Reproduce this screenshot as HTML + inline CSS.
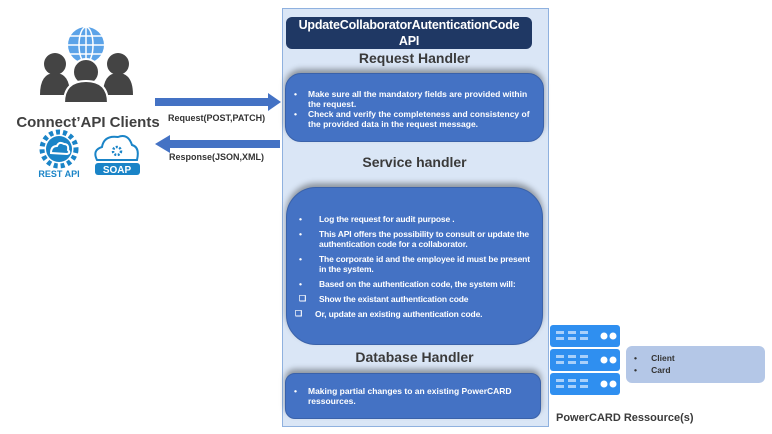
<!DOCTYPE html>
<html><head><style>
body{margin:0;width:772px;height:434px;background:#fff;position:relative;overflow:hidden;font-family:"Liberation Sans",Arial,sans-serif}
.a{position:absolute}
.panel{left:282px;top:8px;width:265px;height:417px;background:#dae6f6;border:1px solid #8fb1df}
.title{left:286px;top:17px;width:246px;height:32px;background:#1f3864;border-radius:6px;color:#fff;font-size:12.5px;font-weight:bold;text-align:center;line-height:16px;letter-spacing:-0.2px}
.h{color:#3a3a3a;font-weight:bold;font-size:14px;text-align:center;width:265px;left:282px}
.box{background:#4472c4;color:#fff;font-weight:bold;box-shadow:0 -4px 6px rgba(0,0,0,.35);border:1px solid #3a62aa;box-sizing:border-box}
.box ul{margin:0;padding:0;list-style:none}
.box li{position:relative;line-height:10px}
.box li:before{content:"•";position:absolute}
.req li{font-size:8.5px}
.req li:before{left:-14px}
.svc li{margin-bottom:5px;line-height:10px;font-size:8.5px;letter-spacing:-0.15px}
.svc li:before{left:-20px}
.svc li.sq:before{content:"❑";left:-20px;font-size:8px}
</style></head><body>
<div class="a panel"></div>
<div class="a title">UpdateCollaboratorAutenticationCode<br>API</div>
<div class="a h" style="top:50px">Request Handler</div>
<div class="a box req" style="left:285px;top:73px;width:259px;height:69px;border-radius:16px;padding:15px 10px 0 22px">
<ul><li>Make sure all the mandatory fields are provided within the request.</li><li>Check and verify the completeness and consistency of the provided data in the request message.</li></ul></div>
<div class="a h" style="top:154px">Service handler</div>
<div class="a box svc" style="left:286px;top:187px;width:257px;height:158px;border-radius:30px;padding:26px 10px 0 32px">
<ul><li>Log the request for audit purpose .</li><li>This API offers the possibility to consult or update the authentication code for a collaborator.</li><li>The corporate id and the employee id must be present in the system.</li><li>Based on the authentication code, the system will:</li><li class="sq">Show the existant authentication code</li><li class="sq" style="margin-left:-4px">Or, update an existing authentication code.</li></ul></div>
<div class="a h" style="top:349px">Database Handler</div>
<div class="a box req" style="left:285px;top:373px;width:256px;height:46px;border-radius:10px;padding:12px 14px 0 22px">
<ul><li>Making partial changes to an existing PowerCARD ressources.</li></ul></div>

<svg class="a" style="left:0;top:0" width="290" height="190">
<rect x="155" y="98" width="115" height="8" fill="#4472c4"/><polygon points="268,93 281,102 268,111" fill="#4472c4"/>
<rect x="168" y="140" width="112" height="8" fill="#4472c4"/><polygon points="170,135 155,144 170,153" fill="#4472c4"/>
<circle cx="86" cy="45" r="18" fill="#5ba3e8"/>
<g stroke="#fff" stroke-width="1.5" fill="none"><ellipse cx="86" cy="45" rx="7" ry="18"/><line x1="68" y1="45" x2="104" y2="45"/><line x1="70" y1="36" x2="102" y2="36"/><line x1="70" y1="54" x2="102" y2="54"/><line x1="86" y1="27" x2="86" y2="63"/></g>
<g fill="#444"><circle cx="55" cy="64" r="11"/><path d="M40 95 q0-22 15-22 q15 0 15 22z"/><circle cx="118" cy="64" r="11"/><path d="M103 95 q0-22 15-22 q15 0 15 22z"/><circle cx="86" cy="72" r="13" stroke="#fff" stroke-width="2"/><path d="M64 103 q0-22 22-22 q22 0 22 22z" stroke="#fff" stroke-width="2"/></g>
<text x="88" y="127" text-anchor="middle" font-size="15" font-weight="bold" fill="#404040" font-family="Liberation Sans">Connect’API Clients</text>
<circle cx="59" cy="149" r="13" fill="#1a84c7"/><circle cx="59" cy="149" r="17" fill="none" stroke="#1a84c7" stroke-width="5" stroke-dasharray="4 3"/><path d="M51 153 q0-7 6-7 q2-5 7-2 q5 0 4 6 q3 3-1 4z" fill="none" stroke="#fff" stroke-width="2"/>
<text x="59" y="177" text-anchor="middle" font-size="9" font-weight="bold" fill="#1a84c7">REST API</text>
<path d="M97 160 q-5-10 5-13 q2-12 16-10 q10-4 14 8 q8 2 5 15z" fill="#fff" stroke="#1a84c7" stroke-width="2"/><circle cx="117" cy="151" r="4" fill="none" stroke="#1a84c7" stroke-width="2.5" stroke-dasharray="2 1.5"/>
<rect x="95" y="163" width="45" height="12" rx="3" fill="#1a84c7"/><text x="117" y="173" text-anchor="middle" font-size="10" font-weight="bold" fill="#fff">SOAP</text>
<text x="168" y="121" font-size="9" font-weight="bold" fill="#333">Request(POST,PATCH)</text>
<text x="169" y="160" font-size="9" font-weight="bold" fill="#333">Response(JSON,XML)</text>
</svg>

<svg class="a" style="left:548px;top:322px" width="80" height="76">
<g fill="#2f8ff0">
<rect x="2" y="3" width="70" height="22" rx="3"/><rect x="2" y="27" width="70" height="22" rx="3"/><rect x="2" y="51" width="70" height="22" rx="3"/></g>
<g fill="#a9d0fa">
<rect x="8" y="9" width="8" height="3"/><rect x="20" y="9" width="8" height="3"/><rect x="32" y="9" width="8" height="3"/><rect x="8" y="15" width="8" height="3"/><rect x="20" y="15" width="8" height="3"/><rect x="32" y="15" width="8" height="3"/>
<rect x="8" y="33" width="8" height="3"/><rect x="20" y="33" width="8" height="3"/><rect x="32" y="33" width="8" height="3"/><rect x="8" y="39" width="8" height="3"/><rect x="20" y="39" width="8" height="3"/><rect x="32" y="39" width="8" height="3"/>
<rect x="8" y="57" width="8" height="3"/><rect x="20" y="57" width="8" height="3"/><rect x="32" y="57" width="8" height="3"/><rect x="8" y="63" width="8" height="3"/><rect x="20" y="63" width="8" height="3"/><rect x="32" y="63" width="8" height="3"/></g>
<g fill="#fff"><circle cx="56" cy="14" r="3.5"/><circle cx="65" cy="14" r="3.5"/><circle cx="56" cy="38" r="3.5"/><circle cx="65" cy="38" r="3.5"/><circle cx="56" cy="62" r="3.5"/><circle cx="65" cy="62" r="3.5"/></g>
</svg>
<div class="a" style="left:626px;top:346px;width:139px;height:37px;background:#b4c7e7;border-radius:6px;font-size:8.5px;font-weight:bold;color:#333;line-height:12px">
<div style="margin:6px 0 0 8px">•&nbsp;&nbsp;&nbsp;&nbsp;&nbsp;&nbsp;Client<br>•&nbsp;&nbsp;&nbsp;&nbsp;&nbsp;&nbsp;Card</div></div>
<div class="a" style="left:556px;top:412px;font-size:11px;font-weight:bold;color:#3a3a3a">PowerCARD Ressource(s)</div>
</body></html>
